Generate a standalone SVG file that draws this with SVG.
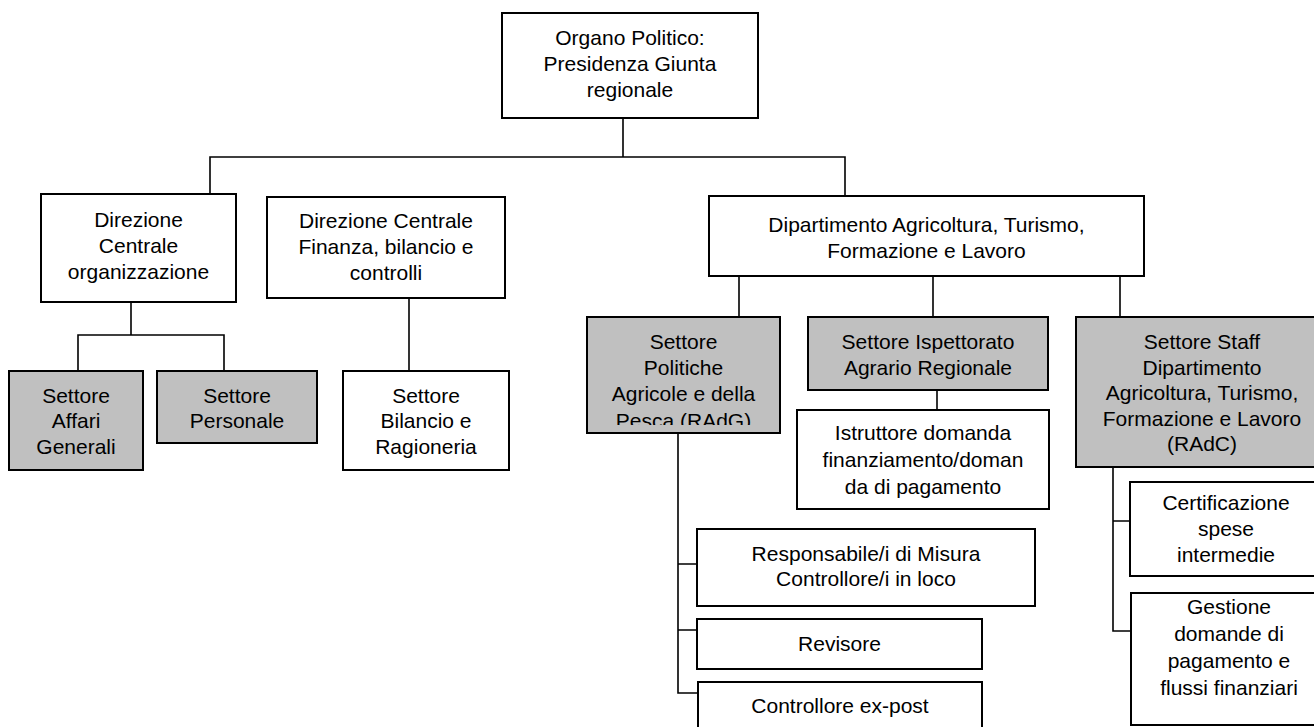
<svg xmlns="http://www.w3.org/2000/svg" width="1314" height="727" viewBox="0 0 1314 727">
<style>
.b{fill:#fff;stroke:#000;stroke-width:2}
.g{fill:#c0c0c0;stroke:#000;stroke-width:2}
.t{font-family:"Liberation Sans",Arial,sans-serif;font-size:21px;fill:#000;text-anchor:middle}
.c{fill:none;stroke:#000;stroke-width:1.6}
</style>
<defs>
<clipPath id="clipPol"><rect x="588" y="318" width="191" height="107"/></clipPath>
</defs>
<rect width="1314" height="727" fill="#fff"/>
<g id="connectors">
<path class="c" d="M623 118V157M210 194V157H845V196"/>
<path class="c" d="M131 302V335M78 371V335H224V371"/>
<path class="c" d="M409 298V371"/>
<path class="c" d="M739 276V317M933 276V317M1120 276V317"/>
<path class="c" d="M937 390V410"/>
<path class="c" d="M678 433V693H697M678 564H697M678 630H697"/>
<path class="c" d="M1113 467V631H1131M1113 521H1130"/>
</g>
<g id="organo">
<rect class="b" x="502" y="13" width="256" height="105"/>
<text class="t" x="630" y="45">Organo Politico:</text>
<text class="t" x="630" y="71">Presidenza Giunta</text>
<text class="t" x="630" y="97">regionale</text>
</g>
<g id="dc-org">
<rect class="b" x="41" y="194" width="195" height="108"/>
<text class="t" x="138.5" y="227">Direzione</text>
<text class="t" x="138.5" y="253">Centrale</text>
<text class="t" x="138.5" y="279">organizzazione</text>
</g>
<g id="dc-fin">
<rect class="b" x="267" y="197" width="238" height="101"/>
<text class="t" x="386" y="228">Direzione Centrale</text>
<text class="t" x="386" y="254">Finanza, bilancio e</text>
<text class="t" x="386" y="280">controlli</text>
</g>
<g id="dipartimento">
<rect class="b" x="709" y="196" width="435" height="80"/>
<text class="t" x="926.5" y="232">Dipartimento Agricoltura, Turismo,</text>
<text class="t" x="926.5" y="258">Formazione e Lavoro</text>
</g>
<g id="affari">
<rect class="g" x="9" y="371" width="134" height="99"/>
<text class="t" x="76" y="403">Settore</text>
<text class="t" x="76" y="428">Affari</text>
<text class="t" x="76" y="454">Generali</text>
</g>
<g id="personale">
<rect class="g" x="157" y="371" width="160" height="72"/>
<text class="t" x="237" y="403">Settore</text>
<text class="t" x="237" y="428">Personale</text>
</g>
<g id="bilancio">
<rect class="b" x="343" y="371" width="166" height="99"/>
<text class="t" x="426" y="403">Settore</text>
<text class="t" x="426" y="428">Bilancio e</text>
<text class="t" x="426" y="454">Ragioneria</text>
</g>
<g id="politiche">
<rect class="g" x="587" y="317" width="193" height="116"/>
<g clip-path="url(#clipPol)">
<text class="t" x="683.5" y="349">Settore</text>
<text class="t" x="683.5" y="375">Politiche</text>
<text class="t" x="683.5" y="401">Agricole e della</text>
<text class="t" x="683.5" y="428">Pesca (RAdG)</text>
</g>
</g>
<g id="ispettorato">
<rect class="g" x="808" y="317" width="240" height="73"/>
<text class="t" x="928" y="349">Settore Ispettorato</text>
<text class="t" x="928" y="375">Agrario Regionale</text>
</g>
<g id="staff">
<rect class="g" x="1076" y="317" width="252" height="150"/>
<text class="t" x="1202" y="349">Settore Staff</text>
<text class="t" x="1202" y="375">Dipartimento</text>
<text class="t" x="1202" y="400">Agricoltura, Turismo,</text>
<text class="t" x="1202" y="426">Formazione e Lavoro</text>
<text class="t" x="1202" y="451">(RAdC)</text>
</g>
<g id="istruttore">
<rect class="b" x="797" y="410" width="252" height="99"/>
<text class="t" x="923" y="440">Istruttore domanda</text>
<text class="t" x="923" y="467">finanziamento/doman</text>
<text class="t" x="923" y="494">da di pagamento</text>
</g>
<g id="responsabile">
<rect class="b" x="697" y="529" width="338" height="77"/>
<text class="t" x="866" y="561">Responsabile/i di Misura</text>
<text class="t" x="866" y="586">Controllore/i in loco</text>
</g>
<g id="revisore">
<rect class="b" x="697" y="619" width="285" height="50"/>
<text class="t" x="839.5" y="651">Revisore</text>
</g>
<g id="expost">
<rect class="b" x="698" y="682" width="284" height="60"/>
<text class="t" x="840" y="713">Controllore ex-post</text>
</g>
<g id="certificazione">
<rect class="b" x="1130" y="482" width="192" height="94"/>
<text class="t" x="1226" y="510">Certificazione</text>
<text class="t" x="1226" y="536">spese</text>
<text class="t" x="1226" y="562">intermedie</text>
</g>
<g id="gestione">
<rect class="b" x="1131" y="593" width="196" height="132"/>
<text class="t" x="1229" y="614">Gestione</text>
<text class="t" x="1229" y="641">domande di</text>
<text class="t" x="1229" y="668">pagamento e</text>
<text class="t" x="1229" y="695">flussi finanziari</text>
</g>
</svg>
